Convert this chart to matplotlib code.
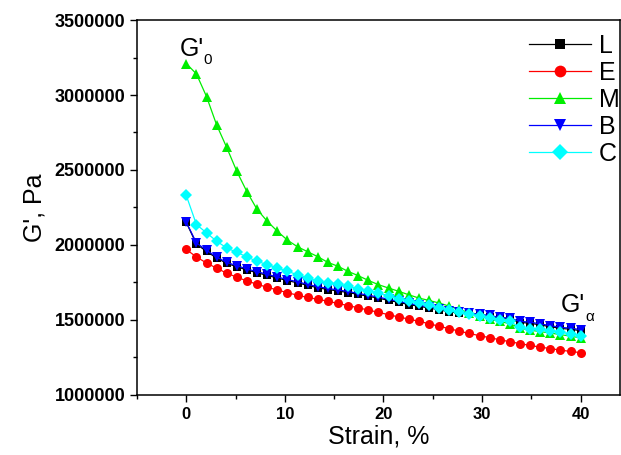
import matplotlib
matplotlib.use("Agg")
import matplotlib.pyplot as plt
from matplotlib.ticker import MultipleLocator
from matplotlib.transforms import offset_copy

plt.rcParams['font.family'] = ['Liberation Sans', 'DejaVu Sans']

strain = [0.00, 1.03, 2.05, 3.08, 4.10, 5.13, 6.15, 7.18, 8.21, 9.23,
          10.26, 11.28, 12.31, 13.33, 14.36, 15.38, 16.41, 17.44, 18.46, 19.49,
          20.51, 21.54, 22.56, 23.59, 24.62, 25.64, 26.67, 27.69, 28.72, 29.74,
          30.77, 31.79, 32.82, 33.85, 34.87, 35.90, 36.92, 37.95, 38.97, 40.00]

L = [2.150, 2.006, 1.957, 1.913, 1.877, 1.855, 1.833, 1.815, 1.797, 1.780,
     1.762, 1.748, 1.730, 1.715, 1.703, 1.693, 1.683, 1.670, 1.658, 1.645,
     1.631, 1.617, 1.603, 1.591, 1.580, 1.568, 1.554, 1.546, 1.539, 1.532,
     1.523, 1.510, 1.506, 1.483, 1.479, 1.466, 1.456, 1.443, 1.439, 1.428]
E = [1.970, 1.920, 1.880, 1.845, 1.812, 1.785, 1.760, 1.738, 1.718, 1.700,
     1.682, 1.665, 1.650, 1.638, 1.625, 1.610, 1.596, 1.581, 1.566, 1.551,
     1.535, 1.520, 1.506, 1.491, 1.475, 1.458, 1.442, 1.425, 1.410, 1.395,
     1.382, 1.368, 1.355, 1.342, 1.330, 1.319, 1.309, 1.299, 1.290, 1.282]
M = [3.210, 3.140, 2.990, 2.800, 2.650, 2.490, 2.355, 2.237, 2.158, 2.092,
     2.032, 1.988, 1.955, 1.922, 1.884, 1.858, 1.824, 1.795, 1.764, 1.735,
     1.713, 1.691, 1.668, 1.646, 1.630, 1.613, 1.592, 1.570, 1.548, 1.527,
     1.507, 1.490, 1.475, 1.445, 1.432, 1.422, 1.413, 1.402, 1.392, 1.380]
B = [2.152, 2.014, 1.965, 1.920, 1.884, 1.862, 1.840, 1.822, 1.804, 1.787,
     1.769, 1.755, 1.737, 1.722, 1.710, 1.700, 1.690, 1.677, 1.665, 1.652,
     1.638, 1.624, 1.610, 1.598, 1.587, 1.575, 1.561, 1.553, 1.546, 1.539,
     1.530, 1.517, 1.513, 1.490, 1.486, 1.473, 1.463, 1.450, 1.446, 1.435]
C = [2.330, 2.136, 2.081, 2.025, 1.980, 1.951, 1.920, 1.891, 1.869, 1.847,
     1.824, 1.802, 1.780, 1.760, 1.748, 1.737, 1.725, 1.707, 1.693, 1.680,
     1.657, 1.642, 1.626, 1.612, 1.597, 1.583, 1.565, 1.552, 1.538, 1.527,
     1.514, 1.502, 1.490, 1.450, 1.440, 1.437, 1.429, 1.418, 1.408, 1.396]

series = [
    ("L", L, "black", "s", 5.5),
    ("E", E, "red", "o", 6.5),
    ("M", M, "#00ee00", "^", 7.0),
    ("B", B, "blue", "v", 7.0),
    ("C", C, "cyan", "D", 6.0),
]

fig = plt.figure(figsize=(6.21, 4.55), dpi=100)
ax = fig.add_axes([0.2206, 0.132, 0.778, 0.824])

for name, vals, col, mk, ms in series:
    ax.plot(strain, [v * 1e6 for v in vals], color=col, marker=mk, markersize=ms,
            linewidth=0.9, markeredgewidth=0, label=name)

ax.set_xlim(-5, 44)
ax.set_ylim(1000000, 3500000)
ax.xaxis.set_major_locator(MultipleLocator(10))
ax.xaxis.set_minor_locator(MultipleLocator(5))
ax.yaxis.set_major_locator(MultipleLocator(500000))
ax.yaxis.set_minor_locator(MultipleLocator(250000))
ax.ticklabel_format(style='plain', axis='y', useOffset=False)
ax.tick_params(which='major', direction='out', length=5, width=1)
ax.tick_params(which='minor', direction='out', length=3, width=1)
for lab in ax.get_xticklabels():
    lab.set_fontweight('bold'); lab.set_fontsize(12)
for lab in ax.get_yticklabels():
    lab.set_fontweight('bold'); lab.set_fontsize(13)
for sp in ax.spines.values():
    sp.set_linewidth(1.1)

ax.set_xlabel("Strain, %", fontsize=18, labelpad=2)
ax.set_ylabel("G', Pa", fontsize=18, labelpad=6)

leg = ax.legend(loc='upper right', frameon=False, fontsize=18, handlelength=2.5,
                handletextpad=0.3, labelspacing=0.12, borderaxespad=0.2,
                markerscale=1.3, bbox_to_anchor=(1.03, 1.004))

# annotations G'0 and G'alpha
ax.text(-0.7, 3260000, "G'", fontsize=18, ha='left', va='baseline')
t0 = offset_copy(ax.transData, fig=fig, x=24, y=-8, units='dots')
ax.text(-0.7, 3260000, "0", fontsize=11, ha='left', va='baseline', transform=t0)
ax.text(38.0, 1555000, "G'", fontsize=18, ha='left', va='baseline')
ta = offset_copy(ax.transData, fig=fig, x=24, y=-9, units='dots')
ax.text(38.0, 1555000, "α", fontsize=11, ha='left', va='baseline', transform=ta)

fig.savefig("out.png", dpi=100)
